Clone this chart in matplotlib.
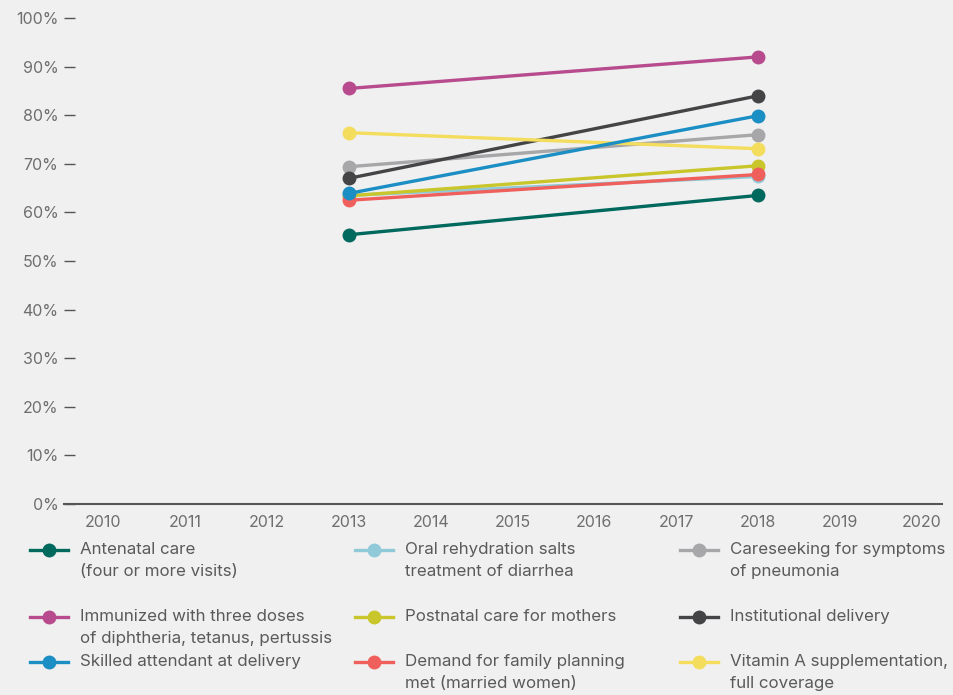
import matplotlib.pyplot as plt
from matplotlib.lines import Line2D

plt.rcParams['font.family'] = ['Inter', 'DejaVu Sans']

years = [2013, 2018]
xticks = list(range(2010, 2021))

# legend / column order (column-major)
labels = [
    "Antenatal care\n(four or more visits)",
    "Immunized with three doses\nof diphtheria, tetanus, pertussis",
    "Skilled attendant at delivery",
    "Oral rehydration salts\ntreatment of diarrhea",
    "Postnatal care for mothers",
    "Demand for family planning\nmet (married women)",
    "Careseeking for symptoms\nof pneumonia",
    "Institutional delivery",
    "Vitamin A supplementation,\nfull coverage",
]
values = [
    [55.4, 63.5],
    [85.5, 92.0],
    [63.9, 79.9],
    [63.5, 67.4],
    [63.4, 69.6],
    [62.5, 67.8],
    [69.4, 76.0],
    [67.0, 84.0],
    [76.4, 73.1],
]
colors = ['#00695e', '#b84a8e', '#1b8ec4', '#90cad8', '#c9c62b',
          '#ef605c', '#a7a7a9', '#444446', '#f4dd5c']
zorders = [3, 3, 9, 3, 4, 5, 3, 3, 3]

W, H = 954, 695
fig = plt.figure(figsize=(W / 100, H / 100), dpi=100)
bg = '#f0f0f0'
fig.patch.set_facecolor(bg)
ax = fig.add_axes([64 / W, 1 - 504 / H, (942 - 64) / W, (504 - 18) / H])
ax.set_facecolor(bg)

for lab, v, c, z in zip(labels, values, colors, zorders):
    ax.plot(years, v, color=c, lw=2.4, marker='o', ms=9, zorder=z, clip_on=False)

ax.set_xlim(2010 - 39 / 82, 2020 + 20 / 82)
ax.set_ylim(0, 100)
ax.set_xticks(xticks)
ax.set_yticks(range(0, 101, 10))
ax.set_yticklabels([f"{t}%" for t in range(0, 101, 10)])
for s in ['top', 'right', 'left']:
    ax.spines[s].set_visible(False)
ax.spines['bottom'].set_color('#555555')
ax.spines['bottom'].set_linewidth(1.5)
ax.tick_params(axis='x', length=0, pad=8, labelsize=11.5, labelcolor='#6e6e6e')
ax.tick_params(axis='y', direction='in', length=8, width=1, color='#555555',
               pad=4, labelsize=11.5, labelcolor='#6e6e6e')

# manual legend
col_x = [30, 355, 680]
row_y = [550, 617, 662]
for i, (lab, c) in enumerate(zip(labels, colors)):
    col, row = i // 3, i % 3
    x0, y0 = col_x[col], row_y[row]
    fig.add_artist(Line2D([x0 / W, (x0 + 38) / W], [1 - y0 / H] * 2, color=c, lw=2.4,
                          transform=fig.transFigure))
    fig.add_artist(Line2D([(x0 + 19) / W], [1 - y0 / H], color=c, marker='o', ms=9,
                          transform=fig.transFigure))
    fig.text((x0 + 50) / W, 1 - (y0 - 8) / H, lab, va='top', ha='left',
             fontsize=12.2, color='#5a5a5a', linespacing=1.58)

fig.savefig('out.png', dpi=100, facecolor=bg)
